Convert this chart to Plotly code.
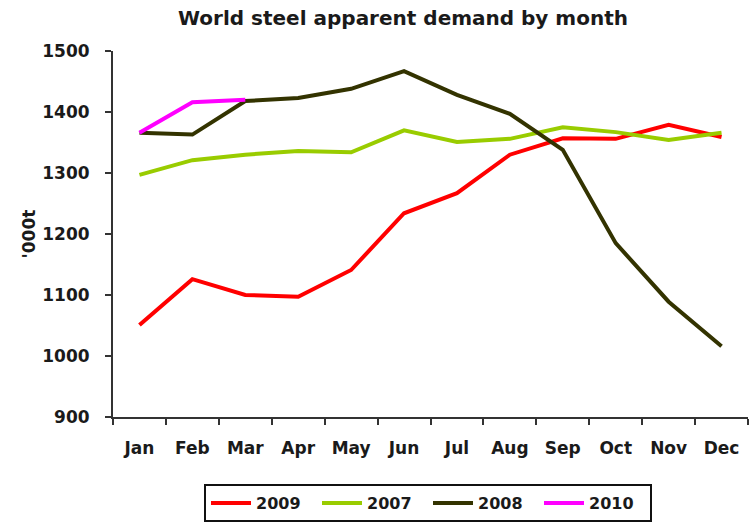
import plotly.graph_objects as go

months = ["Jan", "Feb", "Mar", "Apr", "May", "Jun",
          "Jul", "Aug", "Sep", "Oct", "Nov", "Dec"]

# Monthly apparent steel demand, '000 tonnes
demand_2009 = [1051, 1126, 1100, 1097, 1141, 1234, 1267, 1330, 1357, 1356, 1379, 1359]
demand_2007 = [1297, 1321, 1330, 1336, 1334, 1370, 1351, 1356, 1375, 1367, 1354, 1366]
demand_2008 = [1366, 1363, 1418, 1423, 1438, 1467, 1428, 1397, 1338, 1185, 1089, 1016]
demand_2010 = [1366, 1416, 1420]

y_ticks = [900, 1000, 1100, 1200, 1300, 1400, 1500]

series = [
    ("2009", demand_2009, "#ff0000"),
    ("2007", demand_2007, "#99cc00"),
    ("2008", demand_2008, "#333300"),
    ("2010", demand_2010, "#ff00ff"),
]

FONT = "DejaVu Sans"

fig = go.Figure()
for name, values, color in series:
    fig.add_trace(go.Scatter(
        x=months[:len(values)], y=values, name=name, mode="lines",
        line=dict(color=color, width=4),
    ))

W, H = 755, 525
L, R, T, B = 113, 7, 51, 108

fig.update_layout(
    width=W, height=H,
    margin=dict(l=L, r=R, t=T, b=B, autoexpand=False),
    paper_bgcolor="white", plot_bgcolor="white",
    font=dict(family=FONT, color="#1a1a1a", weight="bold"),
    title=dict(
        text="World steel apparent demand by month",
        font=dict(family=FONT, size=20, weight="bold", color="#1a1a1a"),
        xref="container", yref="container",
        x=403 / W, y=1 - 18 / H, xanchor="center", yanchor="middle",
    ),
    showlegend=True,
    legend=dict(
        orientation="h",
        x=(428 - L) / (W - L - R), xanchor="center",
        y=(417 - 484) / (H - T - B), yanchor="top",
        bordercolor="#111111", borderwidth=2, bgcolor="white",
        font=dict(family=FONT, size=16, weight="bold", color="#1a1a1a"),
        entrywidth=56, entrywidthmode="pixels",
        itemwidth=40,
    ),
    xaxis=dict(
        type="category", categoryorder="array", categoryarray=months,
        range=[-0.5, 11.5], automargin=False,
        showline=True, linecolor="#333333", linewidth=2,
        ticks="outside", tickson="boundaries", ticklen=6, tickwidth=2,
        tickcolor="#333333", showgrid=False, zeroline=False,
        tickfont=dict(family=FONT, size=17, weight="bold", color="#1a1a1a"),
        ticklabelstandoff=15,
    ),
    yaxis=dict(
        range=[900, 1500], tickvals=y_ticks, automargin=False,
        showline=True, linecolor="#333333", linewidth=2,
        ticks="outside", ticklen=6, tickwidth=2, tickcolor="#333333",
        showgrid=False, zeroline=False,
        tickfont=dict(family=FONT, size=17, weight="bold", color="#1a1a1a"),
        ticklabelstandoff=12,
        title=dict(text="'000t", standoff=2,
                   font=dict(family=FONT, size=17, weight="bold", color="#1a1a1a")),
    ),
)

fig.write_html("out.html")
